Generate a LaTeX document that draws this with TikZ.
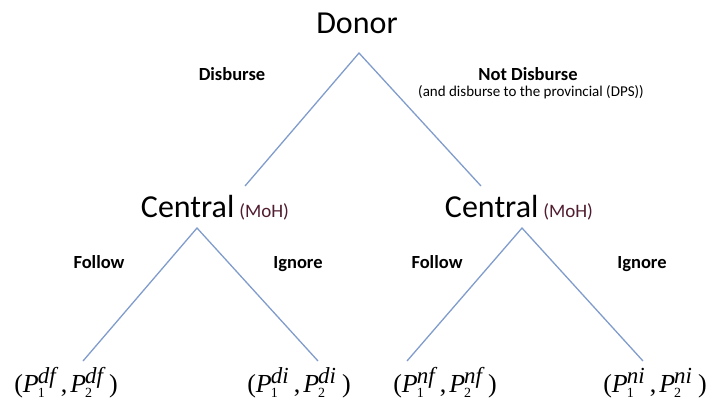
\documentclass[tikz,border=0pt]{standalone}
\usepackage{fontspec}
\setmainfont{Carlito}
\newfontfamily\payfont{Liberation Serif}
\definecolor{branch}{RGB}{128,156,204}
\definecolor{agency}{RGB}{80,28,48}

% one player's payoff: P with a small subscript and a large superscript
\newcommand\pterm[2]{\textit{P}\kern-1pt\rlap{\raisebox{-5pt}{\fontsize{14}{14}\selectfont #1}}\raisebox{9pt}{\fontsize{23}{23}\selectfont\itshape #2}}
\newcommand\payoff[1]{{\payfont\fontsize{26}{28}\selectfont(\pterm{1}{#1}\hspace{5pt},\hspace{3pt}\pterm{2}{#1}\hspace{6pt})}}

\tikzset{
  player/.style={inner sep=0pt, anchor=base, font=\fontsize{32}{36}\selectfont},
  move/.style={inner sep=0pt, anchor=base, font=\bfseries\fontsize{18.5}{20}\selectfont},
  note/.style={inner sep=0pt, anchor=base, font=\fontsize{15}{17}\selectfont},
  leaf/.style={inner sep=0pt, anchor=base},
  branchline/.style={draw=branch, line width=1.3pt}
}

\begin{document}
\begin{tikzpicture}[x=1pt, y=-1pt]
\useasboundingbox (0,0) rectangle (709,405);

% decision nodes
\node[player] (donor) at (357,33) {Donor};
\node[player] (centralL) at (215,217) {Central\hspace{5pt}{\color{agency}\fontsize{19}{20}\selectfont(MoH)}};
\node[player] (centralR) at (519,217) {Central\hspace{5pt}{\color{agency}\fontsize{19}{20}\selectfont(MoH)}};

% outcomes
\node[leaf] (df) at (66,392) {\payoff{df}};
\node[leaf] (di) at (299,392) {\payoff{di}};
\node[leaf] (nf) at (445,392) {\payoff{nf}};
\node[leaf] (ni) at (655,392) {\payoff{ni}};

% branch ends
\coordinate (donorTip) at (359,53);
\coordinate (dL) at (245,186);
\coordinate (dR) at (481,186);
\coordinate (cLTip) at (197,228);
\coordinate (cRTip) at (522,228);
\coordinate (dfEnd) at (83,361);
\coordinate (diEnd) at (318,361);
\coordinate (nfEnd) at (407,361);
\coordinate (niEnd) at (643,361);

\draw[branchline] (dL) -- (donorTip) -- (dR);
\draw[branchline] (dfEnd) -- (cLTip) -- (diEnd);
\draw[branchline] (nfEnd) -- (cRTip) -- (niEnd);

% move labels
\node[move] (disb) at (232,80) {Disburse};
\node[move] (notdisb) at (528,80) {Not Disburse};
\node[note] (dps) at (531,96) {(and disburse to the provincial (DPS))};
\node[move] (followL) at (99,268) {Follow};
\node[move] (ignoreL) at (298,268) {Ignore};
\node[move] (followR) at (437,268) {Follow};
\node[move] (ignoreR) at (642,268) {Ignore};
\end{tikzpicture}
\end{document}
